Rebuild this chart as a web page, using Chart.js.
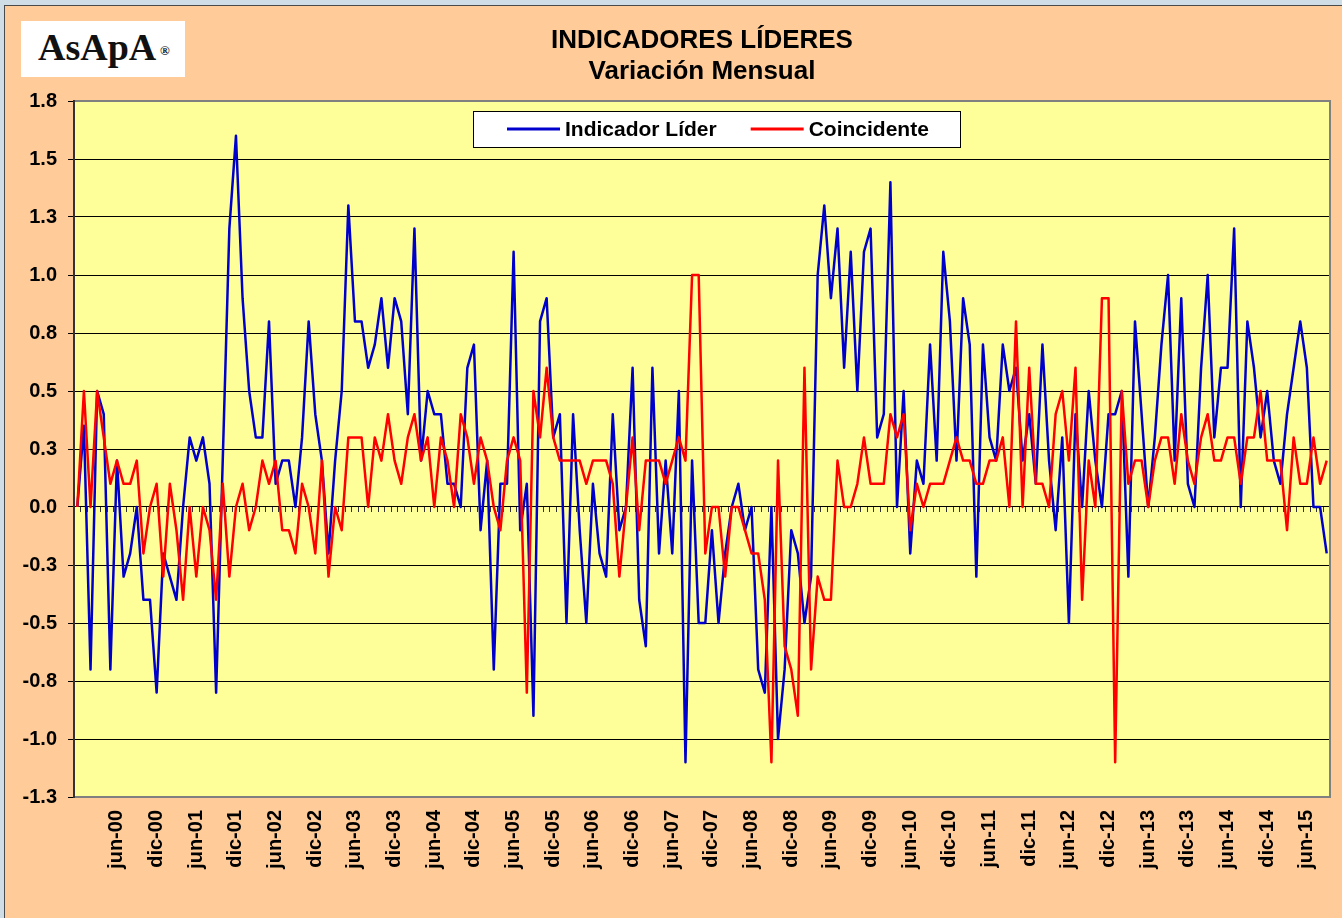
<!DOCTYPE html>
<html>
<head>
<meta charset="utf-8">
<title>Indicadores Líderes - Variación Mensual</title>
<script src="https://cdn.jsdelivr.net/npm/chart.js@4.4.1/dist/chart.umd.min.js"></script>
<style>
  html, body { margin: 0; padding: 0; }
  body { width: 1342px; height: 918px; overflow: hidden; position: relative; background: #cfdde6; }
  #frame { position: absolute; left: 4px; top: 5px; right: 0; bottom: 0; background: #ffcc99;
           border-left: 1px solid #4a4a4a; border-top: 1px solid #4a4a4a; }
  #chart { position: absolute; left: 0; top: 0; }
  #logo { position: absolute; left: 21px; top: 21px; width: 164px; height: 56px; background: #fff; }
  #logo .name { position: absolute; left: 17px; top: 4px; line-height: 38px;
                font: bold 38px "Liberation Serif", "Times New Roman", serif; color: #111; }
  #logo .reg { position: absolute; left: 139px; top: 22px; line-height: 13px;
               font: bold 13px "Liberation Serif", "Times New Roman", serif; color: #111; }
</style>
</head>
<body>
<div id="frame"></div>
<canvas id="chart" width="1342" height="918"></canvas>
<div id="logo"><span class="name">AsApA</span><span class="reg">&reg;</span></div>
<script>
// Variación mensual, dic-99 .. sep-15
const indicadorLider = [
    0.0, 0.35, -0.7, 0.5, 0.4, -0.7, 0.2, -0.3, -0.2, 0.0,
    -0.4, -0.4, -0.8, -0.2, -0.3, -0.4, 0.0, 0.3, 0.2, 0.3,
    0.1, -0.8, 0.2, 1.2, 1.6, 0.9, 0.5, 0.3, 0.3, 0.8,
    0.1, 0.2, 0.2, 0.0, 0.3, 0.8, 0.4, 0.2, -0.2, 0.2,
    0.5, 1.3, 0.8, 0.8, 0.6, 0.7, 0.9, 0.6, 0.9, 0.8,
    0.4, 1.2, 0.2, 0.5, 0.4, 0.4, 0.1, 0.1, 0.0, 0.6,
    0.7, -0.1, 0.2, -0.7, 0.1, 0.1, 1.1, -0.1, 0.1, -0.9,
    0.8, 0.9, 0.3, 0.4, -0.5, 0.4, -0.1, -0.5, 0.1, -0.2,
    -0.3, 0.4, -0.1, 0.0, 0.6, -0.4, -0.6, 0.6, -0.2, 0.2,
    -0.2, 0.5, -1.1, 0.2, -0.5, -0.5, -0.1, -0.5, -0.2, 0.0,
    0.1, -0.1, 0.0, -0.7, -0.8, 0.0, -1.0, -0.7, -0.1, -0.2,
    -0.5, -0.3, 1.0, 1.3, 0.9, 1.2, 0.6, 1.1, 0.5, 1.1,
    1.2, 0.3, 0.4, 1.4, 0.0, 0.5, -0.2, 0.2, 0.1, 0.7,
    0.2, 1.1, 0.8, 0.2, 0.9, 0.7, -0.3, 0.7, 0.3, 0.2,
    0.7, 0.5, 0.6, 0.2, 0.4, 0.1, 0.7, 0.2, -0.1, 0.3,
    -0.5, 0.4, 0.0, 0.5, 0.2, 0.0, 0.4, 0.4, 0.5, -0.3,
    0.8, 0.4, 0.0, 0.3, 0.7, 1.0, 0.2, 0.9, 0.1, 0.0,
    0.6, 1.0, 0.3, 0.6, 0.6, 1.2, 0.0, 0.8, 0.6, 0.3,
    0.5, 0.2, 0.1, 0.4, 0.6, 0.8, 0.6, 0.0, 0.0, -0.2
];

const coincidente = [
    0.0, 0.5, 0.0, 0.5, 0.3, 0.1, 0.2, 0.1, 0.1, 0.2,
    -0.2, 0.0, 0.1, -0.3, 0.1, -0.1, -0.4, 0.0, -0.3, 0.0,
    -0.1, -0.4, 0.1, -0.3, 0.0, 0.1, -0.1, 0.0, 0.2, 0.1,
    0.2, -0.1, -0.1, -0.2, 0.1, 0.0, -0.2, 0.2, -0.3, 0.0,
    -0.1, 0.3, 0.3, 0.3, 0.0, 0.3, 0.2, 0.4, 0.2, 0.1,
    0.3, 0.4, 0.2, 0.3, 0.0, 0.3, 0.2, 0.0, 0.4, 0.3,
    0.1, 0.3, 0.2, 0.0, -0.1, 0.2, 0.3, 0.2, -0.8, 0.5,
    0.3, 0.6, 0.3, 0.2, 0.2, 0.2, 0.2, 0.1, 0.2, 0.2,
    0.2, 0.1, -0.3, 0.0, 0.3, -0.1, 0.2, 0.2, 0.2, 0.1,
    0.2, 0.3, 0.2, 1.0, 1.0, -0.2, 0.0, 0.0, -0.3, 0.0,
    0.0, -0.1, -0.2, -0.2, -0.4, -1.1, 0.2, -0.6, -0.7, -0.9,
    0.6, -0.7, -0.3, -0.4, -0.4, 0.2, 0.0, 0.0, 0.1, 0.3,
    0.1, 0.1, 0.1, 0.4, 0.3, 0.4, -0.1, 0.1, 0.0, 0.1,
    0.1, 0.1, 0.2, 0.3, 0.2, 0.2, 0.1, 0.1, 0.2, 0.2,
    0.3, 0.0, 0.8, 0.0, 0.6, 0.1, 0.1, 0.0, 0.4, 0.5,
    0.2, 0.6, -0.4, 0.2, 0.0, 0.9, 0.9, -1.1, 0.5, 0.1,
    0.2, 0.2, 0.0, 0.2, 0.3, 0.3, 0.1, 0.4, 0.2, 0.1,
    0.3, 0.4, 0.2, 0.2, 0.3, 0.3, 0.1, 0.3, 0.3, 0.5,
    0.2, 0.2, 0.2, -0.1, 0.3, 0.1, 0.1, 0.3, 0.1, 0.2
];

// Category labels: one per month starting dic-99
const MESES = ['ene', 'feb', 'mar', 'abr', 'may', 'jun', 'jul', 'ago', 'sep', 'oct', 'nov', 'dic'];
const MESES_ROTULO = ['jun', 'dic'];
const fechas = [];
for (let k = 0; k < indicadorLider.length; k++) {
    const m = (11 + k) % 12;
    const y = 1999 + Math.floor((11 + k) / 12);
    fechas.push(MESES[m] + '-' + String(y % 100).padStart(2, '0'));
}

// Value axis
const Y_MIN = -1.25;
const Y_MAX = 1.75;
const Y_STEP = 0.25;

const FONT = '"Liberation Sans", Arial, sans-serif';

// Yellow plot area with gray frame, dark value axis line
const plotFrame = {
    id: 'plotFrame',
    beforeDraw(chart) {
        const { ctx, chartArea: a } = chart;
        ctx.save();
        ctx.fillStyle = '#ffff99';
        ctx.fillRect(a.left, a.top, a.width, a.height);
        ctx.restore();
    },
    beforeDatasetsDraw(chart) {
        const { ctx, chartArea: a } = chart;
        ctx.save();
        ctx.strokeStyle = '#808080';
        ctx.lineWidth = 2;
        ctx.strokeRect(a.left, a.top, a.width, a.height);
        ctx.strokeStyle = '#333';
        ctx.beginPath();
        ctx.moveTo(a.left, a.top - 1);
        ctx.lineTo(a.left, a.bottom + 1);
        ctx.stroke();
        ctx.restore();
    }
};

// Boxed legend sitting inside the plot area
const boxLegend = {
    id: 'boxLegend',
    afterDraw(chart) {
        const { ctx, chartArea: a } = chart;
        const x = a.left + 399, y = a.top + 10, w = 487, h = 36;
        ctx.save();
        ctx.fillStyle = '#fff';
        ctx.fillRect(x, y, w, h);
        ctx.strokeStyle = '#000';
        ctx.lineWidth = 1;
        ctx.strokeRect(x + 0.5, y + 0.5, w, h);
        ctx.font = 'bold 21px ' + FONT;
        ctx.textBaseline = 'middle';
        let cx = x + 34;
        chart.data.datasets.forEach(ds => {
            ctx.strokeStyle = ds.borderColor;
            ctx.lineWidth = 3;
            ctx.beginPath();
            ctx.moveTo(cx, y + h / 2);
            ctx.lineTo(cx + 53, y + h / 2);
            ctx.stroke();
            ctx.fillStyle = '#000';
            ctx.fillText(ds.label, cx + 58, y + h / 2 + 1);
            cx += 58 + ctx.measureText(ds.label).width + 34;
        });
        ctx.restore();
    }
};

new Chart(document.getElementById('chart'), {
    type: 'line',
    data: {
        labels: fechas,
        datasets: [
            {
                label: 'Indicador Líder',
                data: indicadorLider,
                borderColor: '#0000cc',
                borderWidth: 2.5,
                borderJoinStyle: 'round',
                pointRadius: 0,
                tension: 0,
                order: 1
            },
            {
                label: 'Coincidente',
                data: coincidente,
                borderColor: '#ff0000',
                borderWidth: 2.5,
                borderJoinStyle: 'round',
                pointRadius: 0,
                tension: 0,
                order: 0
            }
        ]
    },
    options: {
        responsive: false,
        animation: false,
        devicePixelRatio: 1,
        layout: { padding: { top: 10, right: 12, bottom: 0, left: 0 } },
        plugins: {
            legend: { display: false },
            tooltip: { enabled: false },
            title: {
                display: true,
                fullSize: false,
                text: ['INDICADORES LÍDERES', 'Variación Mensual'],
                color: '#000',
                font: { family: FONT, size: 26, weight: 'bold', lineHeight: 1.2 },
                padding: { top: 15, bottom: 13.6 }
            }
        },
        scales: {
            x: {
                type: 'category',
                offset: true,
                grid: { display: false, drawTicks: false },
                border: { display: false },
                ticks: {
                    autoSkip: false,
                    maxRotation: 90,
                    minRotation: 90,
                    padding: 13,
                    color: '#000',
                    font: { family: FONT, size: 20, weight: 'bold' },
                    callback(value, index) {
                        const l = this.getLabelForValue(value);
                        // the first month (dic-99) carries no label
                        return index > 0 && MESES_ROTULO.includes(l.slice(0, 3)) ? l : '';
                    }
                },
                afterFit(scale) {
                    scale.height = 121;
                    scale.paddingLeft = 0;
                    scale.paddingRight = 0;
                }
            },
            // month tick marks along the zero line
            x2: {
                type: 'category',
                position: { y: 0 },
                offset: true,
                grid: {
                    display: true,
                    drawOnChartArea: false,
                    drawTicks: true,
                    tickLength: 5,
                    offset: true,
                    color: '#333',
                    lineWidth: 1
                },
                border: { display: false },
                ticks: { display: false }
            },
            y: {
                min: Y_MIN,
                max: Y_MAX,
                ticks: {
                    stepSize: Y_STEP,
                    padding: 11,
                    color: '#000',
                    font: { family: FONT, size: 20, weight: 'bold' },
                    callback: v => Number(v).toFixed(1)
                },
                grid: { color: '#000', lineWidth: 1, tickLength: 6, drawTicks: true },
                border: { display: false },
                afterFit(scale) {
                    scale.width = 74;
                }
            }
        }
    },
    plugins: [plotFrame, boxLegend]
});
</script>
</body>
</html>
